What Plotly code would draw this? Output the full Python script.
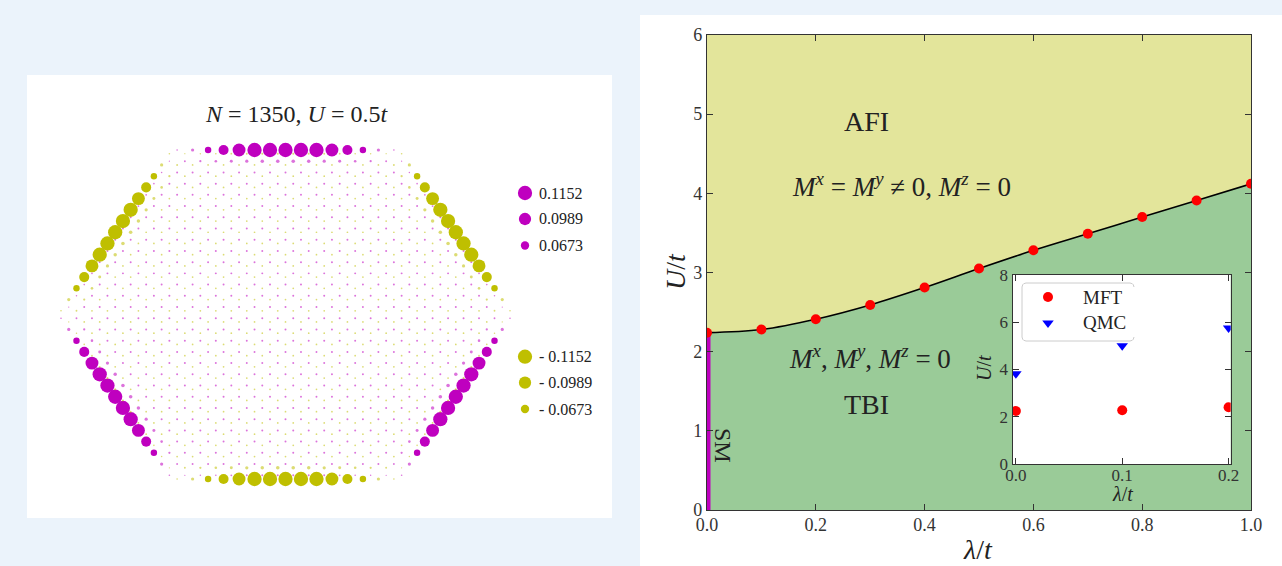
import numpy as np
import plotly.graph_objects as go

W, H = 1282, 566

# ---------------- data ----------------
N_SIDE = 15  # hexagons per side of the zigzag flake (N = 6*15^2 = 1350)
# |m| on the outermost zigzag row along one edge (15 sites)
EDGE_ROW = [0.013, 0.026, 0.052, 0.081, 0.104, 0.1152, 0.1152, 0.1152,
            0.1152, 0.1152, 0.104, 0.081, 0.052, 0.026, 0.013]
# |m| on the next row (opposite sublattice, 16 sites)
SECOND_ROW = [0.008, 0.010, 0.012, 0.013, 0.014, 0.015, 0.016, 0.016,
              0.016, 0.016, 0.015, 0.014, 0.013, 0.012, 0.010, 0.008]
# |m| on the third row (edge sublattice, 16 sites)
THIRD_ROW = [0.012, 0.015, 0.018, 0.021, 0.024, 0.026, 0.028, 0.029,
             0.029, 0.028, 0.026, 0.024, 0.021, 0.018, 0.015, 0.012]
BULK_A = 0.016
BULK_B = 0.014
LEGEND_VALUES = [0.1152, 0.0989, 0.0673]

LAM = [0.0, 0.1, 0.2, 0.3, 0.4, 0.5, 0.6, 0.7, 0.8, 0.9, 1.0]
U_MFT = [2.24, 2.28, 2.41, 2.59, 2.81, 3.05, 3.28, 3.49, 3.70, 3.91, 4.12]
LAM_TICKS = [0.0, 0.2, 0.4, 0.6, 0.8, 1.0]
U_TICKS = [0, 1, 2, 3, 4, 5, 6]

INSET_LAM = [0.0, 0.1, 0.2]
INSET_MFT = [2.25, 2.28, 2.41]
INSET_QMC = [3.82, 5.00, 5.75]
INSET_XTICKS = [0.0, 0.1, 0.2]
INSET_YTICKS = [0, 2, 4, 6, 8]
INSET_NAMES = ["MFT", "QMC"]

# ---------------- colours / fonts ----------------
MAG = "#BF00BF"
YEL = "#BFBF00"
BG = "#EBF3FB"
AFI_COL = "#E3E59B"
TBI_COL = "#9ACB98"
SERIF = "Liberation Serif"
TXT = "#222222"

# ---------------- honeycomb flake geometry ----------------
s3 = np.sqrt(3.0)
n = N_SIDE
sites = {}
for i in range(-(n - 1), n):
    for j in range(-(n - 1), n):
        if max(abs(i), abs(j), abs(i + j)) <= n - 1:
            cx = i * s3 + j * s3 / 2
            cy = j * 1.5
            for k in range(6):
                th = np.deg2rad(90 + 60 * k)
                x = cx + np.cos(th)
                y = cy + np.sin(th)
                key = (round(x * 1000), round(y * 1000))
                sites[key] = (x, y, k % 2)

R_OUT = (n - 1) * 1.5 + 1.0
xs, ys, vals = [], [], []
for (x, y, sub) in sites.values():
    best, bk = -1e9, 0
    for k in range(6):
        th = np.deg2rad(90 - 60 * k)
        s = x * np.cos(th) + y * np.sin(th)
        if s > best + 1e-6:
            best, bk = s, k
    th = np.deg2rad(90 - 60 * bk)
    t = x * np.sin(th) - y * np.cos(th)
    depth = R_OUT - best
    if abs(depth) < 0.1:
        idx = int(np.clip(round(t / s3 + 7), 0, 14))
        m = EDGE_ROW[idx]
    elif abs(depth - 0.5) < 0.1:
        idx = int(np.clip(round(t / s3 + 7.5), 0, 15))
        m = SECOND_ROW[idx]
    elif abs(depth - 1.5) < 0.1:
        idx = int(np.clip(round(t / s3 + 7.5), 0, 15))
        m = THIRD_ROW[idx]
    else:
        m = BULK_A if sub == 0 else BULK_B
    sign = 1 if sub == 0 else -1
    xs.append(x)
    ys.append(y)
    vals.append(sign * m)
xs = np.array(xs); ys = np.array(ys); vals = np.array(vals)
SIZE_SCALE = 124.0

# pixel layout of the flake panel
PANEL_L, PANEL_R, PANEL_T, PANEL_B = 27, 612, 75, 518
FL_L, FL_R, FL_T, FL_B = 61, 510, 150, 479
xext = xs.max() - xs.min()
yext = ys.max() - ys.min()
sx = (FL_R - FL_L) / xext
sy = (FL_B - FL_T) / yext
hx0 = xs.min() - (FL_L - PANEL_L) / sx
hx1 = xs.max() + (PANEL_R - FL_R) / sx
hy1 = ys.max() + (FL_T - PANEL_T) / sy
hy0 = ys.min() - (PANEL_B - FL_B) / sy


def dom_x(a, b):
    return [a / W, b / W]


def dom_y(top, bot):
    return [1 - bot / H, 1 - top / H]


fig = go.Figure()


def flake_trace(mask, color):
    a = np.abs(vals[mask])
    op = np.where(a < 0.035, 0.55, 1.0)
    return go.Scatter(x=xs[mask], y=ys[mask], mode="markers", xaxis="x", yaxis="y",
                      marker=dict(color=color, size=a * SIZE_SCALE, opacity=op, line=dict(width=0)),
                      showlegend=False, hoverinfo="skip")


fig.add_trace(flake_trace(vals > 0, MAG))
fig.add_trace(flake_trace(vals < 0, YEL))

# ---------------- phase diagram ----------------
fig.add_trace(go.Scatter(x=[0, 1], y=[6, 6], mode="lines", line=dict(width=0),
                         xaxis="x2", yaxis="y2", showlegend=False, hoverinfo="skip"))
fig.add_trace(go.Scatter(x=LAM, y=U_MFT, mode="lines", line=dict(width=0, shape="spline"),
                         fill="tonexty", fillcolor=AFI_COL,
                         xaxis="x2", yaxis="y2", showlegend=False, hoverinfo="skip"))
fig.add_trace(go.Scatter(x=[0, 1], y=[0, 0], mode="lines", line=dict(width=0),
                         fill="tonexty", fillcolor=TBI_COL,
                         xaxis="x2", yaxis="y2", showlegend=False, hoverinfo="skip"))
fig.add_trace(go.Scatter(x=LAM, y=U_MFT, mode="lines", line=dict(color="black", width=1.6, shape="spline"),
                         xaxis="x2", yaxis="y2", showlegend=False, hoverinfo="skip"))
fig.add_trace(go.Scatter(x=[0, 0], y=[0, U_MFT[0]], mode="lines", line=dict(color=MAG, width=7),
                         xaxis="x2", yaxis="y2", showlegend=False, hoverinfo="skip"))
fig.add_trace(go.Scatter(x=LAM, y=U_MFT, mode="markers", marker=dict(color="#FF0000", size=10),
                         xaxis="x2", yaxis="y2", showlegend=False, hoverinfo="skip"))

# ---------------- inset ----------------
fig.add_trace(go.Scatter(x=[-1, 1, 1, -1], y=[-1, -1, 10, 10], mode="lines", fill="toself",
                         fillcolor="white", line=dict(width=0),
                         xaxis="x3", yaxis="y3", showlegend=False, hoverinfo="skip"))
fig.add_trace(go.Scatter(x=INSET_LAM, y=INSET_MFT, mode="markers", name=INSET_NAMES[0],
                         marker=dict(color="#FF0000", size=10, symbol="circle"),
                         xaxis="x3", yaxis="y3", showlegend=False, hoverinfo="skip"))
fig.add_trace(go.Scatter(x=INSET_LAM, y=INSET_QMC, mode="markers", name=INSET_NAMES[1],
                         marker=dict(color="#0000FF", size=10, symbol="triangle-down"),
                         xaxis="x3", yaxis="y3", showlegend=False, hoverinfo="skip"))

# ---------------- inset legend (pixel overlay) ----------------
BOX_L, BOX_R, BOX_T, BOX_B, RAD = 1022, 1134, 283, 341, 4
ang = np.linspace(0, np.pi / 2, 6)
bx, by = [], []
for (cxp, cyp, a0) in [(BOX_R - RAD, BOX_T + RAD, 0.0), (BOX_L + RAD, BOX_T + RAD, np.pi / 2),
                       (BOX_L + RAD, BOX_B - RAD, np.pi), (BOX_R - RAD, BOX_B - RAD, 1.5 * np.pi)]:
    bx += list(cxp + RAD * np.cos(a0 + ang))
    by += list(cyp - RAD * np.sin(a0 + ang))
fig.add_trace(go.Scatter(x=bx, y=by, mode="lines", fill="toself", fillcolor="white",
                         line=dict(color="#CCCCCC", width=1), xaxis="x4", yaxis="y4",
                         showlegend=False, hoverinfo="skip"))
LEGI_Y = [297, 323]
fig.add_trace(go.Scatter(x=[1048], y=[LEGI_Y[0]], mode="markers", xaxis="x4", yaxis="y4",
                         marker=dict(color="#FF0000", size=10, symbol="circle"),
                         showlegend=False, hoverinfo="skip"))
fig.add_trace(go.Scatter(x=[1048], y=[LEGI_Y[1]], mode="markers", xaxis="x4", yaxis="y4",
                         marker=dict(color="#0000FF", size=10, symbol="triangle-down"),
                         showlegend=False, hoverinfo="skip"))

# ---------------- flake legend (pixel overlay) ----------------
LEG_X = 525
LEG_Y_POS = [193, 219, 245.5]
LEG_Y_NEG = [356.7, 382.7, 409]
fig.add_trace(go.Scatter(x=[LEG_X] * 3, y=LEG_Y_POS, mode="markers", xaxis="x4", yaxis="y4",
                         marker=dict(color=MAG, size=np.array(LEGEND_VALUES) * SIZE_SCALE,
                                     opacity=1, line=dict(width=0)),
                         showlegend=False, hoverinfo="skip"))
fig.add_trace(go.Scatter(x=[LEG_X] * 3, y=LEG_Y_NEG, mode="markers", xaxis="x4", yaxis="y4",
                         marker=dict(color=YEL, size=np.array(LEGEND_VALUES) * SIZE_SCALE,
                                     opacity=1, line=dict(width=0)),
                         showlegend=False, hoverinfo="skip"))

ann = []


def txt(px, py, s, size, xanchor="center", yanchor="middle", angle=0, color=TXT):
    ann.append(dict(x=px / W, y=1 - py / H, xref="paper", yref="paper", text=s, showarrow=False,
                    xanchor=xanchor, yanchor=yanchor, textangle=angle,
                    font=dict(family=SERIF, size=size, color=color)))


for v, yy in zip(LEGEND_VALUES, LEG_Y_POS):
    txt(537, yy, f"{v:.4f}", 16, xanchor="left")
for v, yy in zip(LEGEND_VALUES, LEG_Y_NEG):
    txt(537, yy, f"- {v:.4f}", 16, xanchor="left")
for name, yy in zip(INSET_NAMES, LEGI_Y):
    txt(1081, yy, name, 19, xanchor="left")

txt(296, 114, "<i>N</i> = 1350, <i>U</i> = 0.5<i>t</i>", 24)
txt(866, 122, "AFI", 28)
txt(866, 404, "TBI", 28)
txt(901, 185, "<i>M</i><sup><i>x</i></sup> = <i>M</i><sup><i>y</i></sup> ≠ 0, <i>M</i><sup><i>z</i></sup> = 0", 27)
txt(870, 357, "<i>M</i><sup><i>x</i></sup>, <i>M</i><sup><i>y</i></sup>, <i>M</i><sup><i>z</i></sup> = 0", 27)
txt(723, 445, "SM", 24, angle=90)
txt(675, 272, "<i>U</i>/<i>t</i>", 28, angle=-90)
txt(978, 549, "<i>λ</i>/<i>t</i>", 28)
txt(984, 368, "<i>U</i>/<i>t</i>", 20, angle=-90)
txt(1122, 494, "<i>λ</i>/<i>t</i>", 20)

axis_common = dict(showgrid=False, zeroline=False, ticks="inside", mirror="allticks",
                   showline=True, linecolor="#333333", linewidth=1.4, tickcolor="#333333",
                   ticklen=6, tickwidth=1.2, automargin=False,
                   tickfont=dict(family=SERIF, size=18, color="#333333"))
inset_font = dict(family=SERIF, size=17, color="#333333")

fig.update_layout(
    template="none",
    width=W, height=H, margin=dict(l=0, r=0, t=0, b=0, pad=0, autoexpand=False),
    paper_bgcolor=BG, plot_bgcolor="rgba(0,0,0,0)",
    xaxis=dict(domain=dom_x(PANEL_L, PANEL_R), range=[hx0, hx1], visible=False),
    yaxis=dict(domain=dom_y(PANEL_T, PANEL_B), range=[hy0, hy1], visible=False),
    xaxis2=dict(domain=dom_x(707, 1251), range=[0, 1], anchor="y2", ticklabelstandoff=-2,
                tickvals=LAM_TICKS, ticktext=[f"{v:.1f}" for v in LAM_TICKS], **axis_common),
    yaxis2=dict(domain=dom_y(35, 510), range=[0, 6], anchor="x2",
                tickvals=U_TICKS, **axis_common),
    xaxis3=dict(domain=dom_x(1012.7, 1230.7), range=[-0.003, 0.202], anchor="y3",
                ticklabelstandoff=-5,
                tickvals=INSET_XTICKS, ticktext=[f"{v:.1f}" for v in INSET_XTICKS],
                **{**axis_common, "tickfont": inset_font}),
    yaxis3=dict(domain=dom_y(274.7, 464.3), range=[0, 8], anchor="x3",
                tickvals=INSET_YTICKS, **{**axis_common, "tickfont": inset_font}),
    xaxis4=dict(domain=[0, 1], range=[0, W], visible=False, anchor="y4"),
    yaxis4=dict(domain=[0, 1], range=[H, 0], visible=False, anchor="x4"),
    shapes=[
        dict(type="rect", xref="paper", yref="paper", layer="below",
             x0=PANEL_L / W, x1=PANEL_R / W, y0=1 - PANEL_B / H, y1=1 - PANEL_T / H,
             fillcolor="white", line=dict(width=0)),
        dict(type="rect", xref="paper", yref="paper", layer="below",
             x0=640 / W, x1=1.0, y0=0, y1=1 - 15 / H,
             fillcolor="white", line=dict(width=0)),
    ],
    annotations=ann,
    showlegend=False,
)

fig.write_html("out.html")
